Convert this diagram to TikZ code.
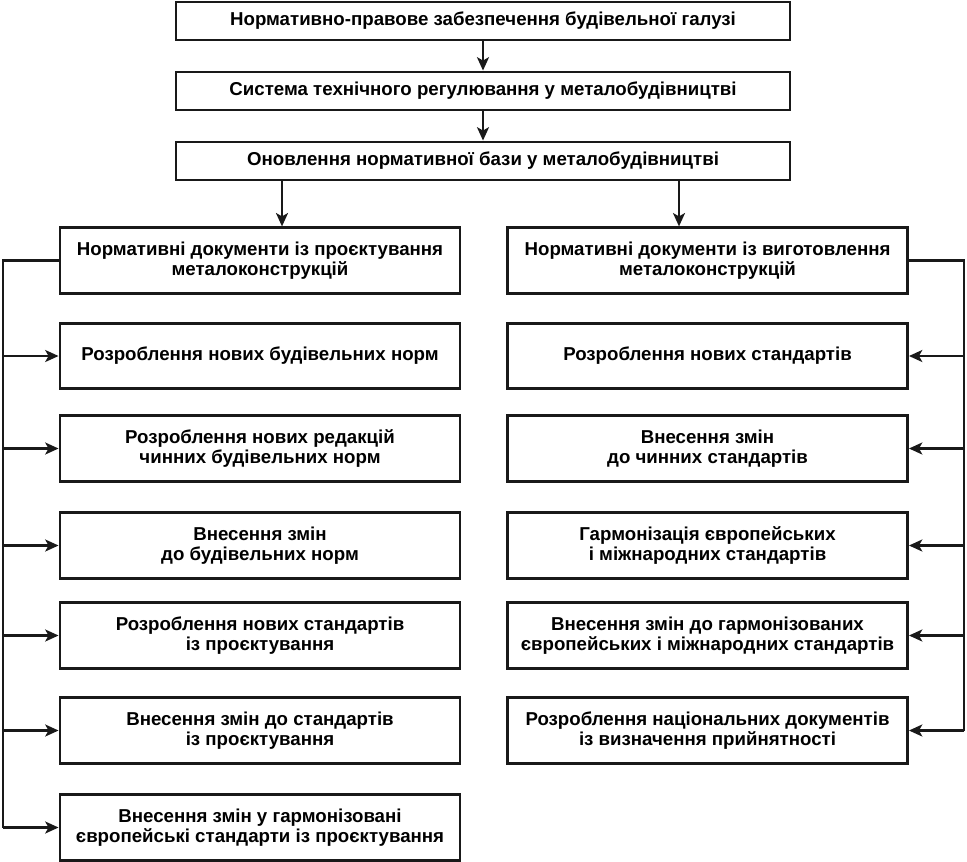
\documentclass[tikz,border=0pt]{standalone}
\usepackage{fontspec}
\setmainfont{Liberation Sans}
\usetikzlibrary{arrows.meta}
\begin{document}
\begin{tikzpicture}[x=0.75pt,y=-0.75pt,
  box/.style={draw=black!90,line width=2.2pt,fill=white,inner sep=0pt,align=center,
    font=\bfseries\fontsize{14}{15.5}\selectfont},
  topbox/.style={box,minimum width=460.5pt,minimum height=28.5pt},
  colbox/.style={box,minimum width=300pt,minimum height=49pt},
  conn/.style={draw=black!90,line width=1.6pt},
  arr/.style={conn,-{Stealth[length=10pt,width=9pt,inset=2.5pt]}}]
\useasboundingbox (0,0) rectangle (967,861);
\node[topbox] (t1) at (483,21) {Нормативно-правове забезпечення будівельної галузі};
\node[topbox] (t2) at (483,91) {Система технічного регулювання у металобудівництві};
\node[topbox] (t3) at (483,161) {Оновлення нормативної бази у металобудівництві};
\node[colbox] (L0) at (260,260.5) {Нормативні документи із проєктування\\металоконструкцій};
\node[colbox] (R0) at (707.5,260.5) {Нормативні документи із виготовлення\\металоконструкцій};
\node[colbox] (L1) at (260,356) {Розроблення нових будівельних норм};
\node[colbox] (L2) at (260,448.5) {Розроблення нових редакцій\\чинних будівельних норм};
\node[colbox] (L3) at (260,545.5) {Внесення змін\\до будівельних норм};
\node[colbox] (L4) at (260,635.5) {Розроблення нових стандартів\\із проєктування};
\node[colbox] (L5) at (260,730.5) {Внесення змін до стандартів\\із проєктування};
\node[colbox] (L6) at (260,827.5) {Внесення змін у гармонізовані\\європейські стандарти із проєктування};
\node[colbox] (R1) at (707.5,356) {Розроблення нових стандартів};
\node[colbox] (R2) at (707.5,448.5) {Внесення змін\\до чинних стандартів};
\node[colbox] (R3) at (707.5,545.5) {Гармонізація європейських\\і міжнародних стандартів};
\node[colbox] (R4) at (707.5,635.5) {Внесення змін до гармонізованих\\європейських і міжнародних стандартів};
\node[colbox] (R5) at (707.5,730.5) {Розроблення національних документів\\із визначення прийнятності};
\draw[arr] (t1) -- (t2);
\draw[arr] (t2) -- (t3);
\draw[arr] (t3.south -| 282,0) -- (L0.north -| 282,0);
\draw[arr] (t3.south -| 679,0) -- (R0.north -| 679,0);
\coordinate (lb) at (3,0);
\coordinate (rb) at (964,0);
\draw[conn] (L0.west) -- (L0.west -| lb) -- (L6.west -| lb);
\draw[conn] (R0.east) -- (R0.east -| rb) -- (R5.east -| rb);
\foreach \n in {L1,L2,L3,L4,L5,L6} \draw[arr] (\n.west -| lb) -- (\n.west);
\foreach \n in {R1,R2,R3,R4,R5} \draw[arr] (\n.east -| rb) -- (\n.east);
\end{tikzpicture}
\end{document}
